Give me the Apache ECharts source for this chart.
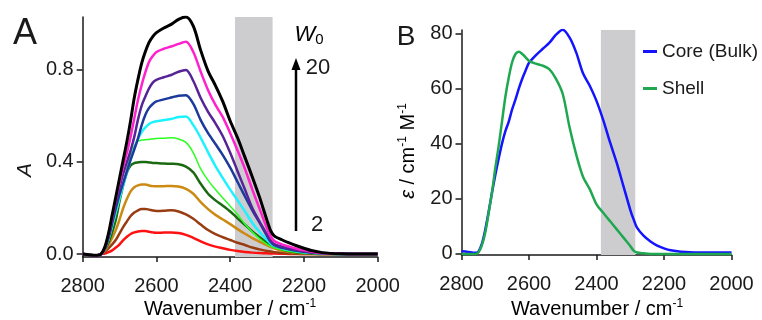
<!DOCTYPE html>
<html><head><meta charset="utf-8">
<script src="https://cdn.jsdelivr.net/npm/echarts@6/dist/echarts.min.js"></script>
<style>html,body{margin:0;padding:0;background:#fff}#c{width:762px;height:320px}</style>
</head><body><div id="c"></div>
<script>
// Wavenumber grid (cm-1)
const wavenumbers = [2800, 2780, 2760, 2750, 2740, 2730, 2720, 2710, 2700, 2690, 2680, 2670, 2660, 2650, 2640, 2630, 2620, 2610, 2600, 2580, 2560, 2540, 2520, 2500, 2480, 2460, 2440, 2420, 2400, 2380, 2360, 2340, 2320, 2300, 2290, 2280, 2260, 2240, 2220, 2200, 2180, 2150, 2100, 2050, 2000];

// Panel A: absorbance for W0 = 2 ... 20
const w0Labels = ['2', '4', '6', '8', '10', '12', '14', '16', '18', '20'];
const absW2  = [0, -0.004, -0.005, 0, 0.002, 0.008, 0.016, 0.028, 0.042, 0.06, 0.075, 0.087, 0.094, 0.098, 0.1, 0.1, 0.097, 0.094, 0.092, 0.093, 0.094, 0.091, 0.083, 0.07, 0.055, 0.042, 0.032, 0.025, 0.018, 0.013, 0.009, 0.006, 0.004, 0.003, 0.002, 0.002, 0.001, 0, 0, 0, 0, 0, 0, 0, 0];
const absW4  = [0, -0.004, -0.005, 0, 0.01, 0.025, 0.042, 0.062, 0.09, 0.118, 0.142, 0.165, 0.18, 0.19, 0.196, 0.196, 0.193, 0.189, 0.187, 0.188, 0.19, 0.185, 0.172, 0.153, 0.128, 0.104, 0.086, 0.073, 0.061, 0.049, 0.039, 0.028, 0.02, 0.013, 0.011, 0.008, 0.005, 0.003, 0.001, 0, 0, 0, 0, 0, 0];
const absW6  = [0, -0.004, -0.005, 0, 0.015, 0.04, 0.07, 0.105, 0.15, 0.2, 0.24, 0.272, 0.29, 0.298, 0.302, 0.302, 0.298, 0.295, 0.294, 0.295, 0.296, 0.293, 0.283, 0.262, 0.225, 0.195, 0.17, 0.15, 0.13, 0.108, 0.088, 0.069, 0.053, 0.037, 0.03, 0.024, 0.015, 0.009, 0.005, 0.003, 0.001, 0, 0, 0, 0];
const absW8  = [0, -0.004, -0.005, 0, 0.02, 0.05, 0.095, 0.15, 0.23, 0.30, 0.355, 0.385, 0.395, 0.398, 0.4, 0.4, 0.398, 0.396, 0.395, 0.393, 0.392, 0.39, 0.38, 0.355, 0.305, 0.262, 0.233, 0.21, 0.185, 0.155, 0.127, 0.098, 0.073, 0.05, 0.04, 0.032, 0.02, 0.012, 0.007, 0.004, 0.002, 0, 0, 0, 0];
const absW10 = [0, -0.004, -0.005, 0, 0.022, 0.06, 0.115, 0.175, 0.235, 0.30, 0.37, 0.43, 0.47, 0.49, 0.495, 0.497, 0.498, 0.5, 0.502, 0.503, 0.505, 0.5, 0.485, 0.44, 0.37, 0.32, 0.28, 0.243, 0.208, 0.172, 0.13, 0.095, 0.066, 0.042, 0.033, 0.026, 0.018, 0.012, 0.008, 0.005, 0.003, 0.001, 0, 0, 0];
const absW12 = [0, -0.004, -0.005, 0, 0.023, 0.065, 0.125, 0.185, 0.245, 0.30, 0.355, 0.41, 0.46, 0.50, 0.53, 0.55, 0.565, 0.573, 0.577, 0.582, 0.587, 0.595, 0.598, 0.56, 0.505, 0.442, 0.382, 0.33, 0.28, 0.233, 0.185, 0.135, 0.095, 0.06, 0.045, 0.035, 0.025, 0.018, 0.012, 0.008, 0.005, 0.002, 0, 0, 0];
const absW14 = [0, -0.004, -0.005, 0, 0.024, 0.07, 0.135, 0.2, 0.26, 0.31, 0.36, 0.41, 0.455, 0.503, 0.56, 0.605, 0.635, 0.652, 0.663, 0.672, 0.68, 0.688, 0.69, 0.652, 0.582, 0.525, 0.478, 0.43, 0.375, 0.313, 0.25, 0.19, 0.135, 0.078, 0.052, 0.038, 0.027, 0.02, 0.014, 0.01, 0.006, 0.003, 0, 0, 0];
const absW16 = [0, -0.004, -0.005, 0, 0.025, 0.075, 0.145, 0.22, 0.29, 0.35, 0.40, 0.45, 0.51, 0.585, 0.645, 0.685, 0.72, 0.745, 0.757, 0.768, 0.778, 0.792, 0.80, 0.752, 0.678, 0.618, 0.568, 0.512, 0.44, 0.36, 0.28, 0.20, 0.14, 0.085, 0.058, 0.043, 0.032, 0.024, 0.017, 0.012, 0.007, 0.003, 0.001, 0, 0];
const absW18 = [0, -0.004, -0.005, 0, 0.028, 0.085, 0.16, 0.24, 0.31, 0.38, 0.44, 0.51, 0.59, 0.67, 0.735, 0.79, 0.835, 0.86, 0.878, 0.892, 0.902, 0.913, 0.922, 0.878, 0.792, 0.712, 0.648, 0.595, 0.525, 0.45, 0.37, 0.28, 0.195, 0.11, 0.075, 0.056, 0.042, 0.032, 0.023, 0.016, 0.01, 0.004, 0.001, 0, 0];
const absW20 = [0, -0.004, -0.005, 0, 0.03, 0.09, 0.17, 0.25, 0.33, 0.41, 0.49, 0.58, 0.68, 0.76, 0.83, 0.88, 0.92, 0.945, 0.962, 0.982, 0.998, 1.02, 1.03, 0.99, 0.885, 0.795, 0.732, 0.662, 0.578, 0.505, 0.42, 0.335, 0.245, 0.145, 0.10, 0.078, 0.062, 0.048, 0.036, 0.025, 0.015, 0.006, 0.001, 0, 0];

// Panel B: molar absorptivity (cm-1 M-1)
const coreEps  = [1.0, 0.7, 0.4, 0.8, 3.5, 8.5, 15, 22, 28.5, 34.5, 40, 44.5, 48, 52.4, 56, 60, 63.5, 66.5, 69.3, 72, 74.3, 76.5, 79.5, 81.3, 78.5, 73, 65.5, 61, 55.5, 48.5, 40.5, 33, 24.5, 16, 12.5, 9.5, 6.5, 4.5, 3, 2, 1.3, 0.8, 0.5, 0.5, 0.5];
const shellEps = [0, 0, 0, 0.5, 3, 7.5, 14.5, 22, 31, 39, 48, 57, 64, 69.5, 72.5, 73.3, 72.5, 71.3, 70, 69, 68.3, 67, 63.5, 58, 46, 36, 28, 23.5, 18, 14.9, 11.9, 8.9, 5.9, 2.9, 1.2, 0.5, 0.2, 0, 0, 0, 0, 0, 0, 0, 0];

const yTicksA = [0, 0.4, 0.8];
const yTicksB = [0, 20, 40, 60, 80];
const bandRange = [2387, 2285];

const FONT = 'Liberation Sans, Arial, sans-serif';
const TXT = '#1a1a1a';
const seriesA = [absW2, absW4, absW6, absW8, absW10, absW12, absW14, absW16, absW18, absW20];
const colorsA = ['#ff1111', '#983c12', '#cc8a12', '#1b6a12', '#2cff22', '#1ef2ff', '#1c3a9c', '#562497', '#ff22cc', '#000000'];
const widthsA = [2.5, 2.5, 2.5, 2.5, 1.5, 2.5, 2.5, 2.5, 2.5, 3];

function pairs(vals) { return wavenumbers.map((w, i) => [w, vals[i]]); }

function xAxisCfg(gi) {
  return {
    type: 'value', gridIndex: gi, min: 2000, max: 2800, interval: 200, inverse: true,
    axisLine: { show: true, onZero: false, lineStyle: { color: TXT, width: 1.5 } },
    axisTick: { show: true, length: 5, lineStyle: { color: TXT, width: 1.5 } },
    axisLabel: { fontSize: 20, color: TXT, fontFamily: FONT, margin: 19, formatter: v => String(v) },
    splitLine: { show: false }
  };
}
function yAxisCfg(gi, min, max, ticks, fmt) {
  return {
    type: 'value', gridIndex: gi, min: min, max: max,
    axisLine: { show: true, onZero: false, lineStyle: { color: TXT, width: 1.5 } },
    axisTick: { show: true, length: 6, customValues: ticks, lineStyle: { color: TXT, width: 1.5 } },
    axisLabel: { fontSize: 20, color: TXT, fontFamily: FONT, margin: 9, customValues: ticks, formatter: fmt },
    splitLine: { show: false }
  };
}

const series = [];
series.push({ type: 'line', xAxisIndex: 0, yAxisIndex: 0, data: [], z: 1, silent: true,
  markArea: { silent: true, itemStyle: { color: '#cdcccf' }, data: [[{ xAxis: bandRange[0] }, { xAxis: bandRange[1] }]] } });
series.push({ type: 'line', xAxisIndex: 1, yAxisIndex: 1, data: [], z: 1, silent: true,
  markArea: { silent: true, itemStyle: { color: '#cdcccf' }, data: [[{ xAxis: bandRange[0] }, { xAxis: bandRange[1] }]] } });
seriesA.forEach((vals, i) => {
  series.push({ name: 'W0=' + w0Labels[i], type: 'line', xAxisIndex: 0, yAxisIndex: 0, data: pairs(vals),
    showSymbol: false, smooth: 0.3, z: 3, lineStyle: { color: colorsA[i], width: widthsA[i] }, itemStyle: { color: colorsA[i] } });
});
series.push({ name: 'Core (Bulk)', type: 'line', xAxisIndex: 1, yAxisIndex: 1, data: pairs(coreEps), showSymbol: false, smooth: 0.3, z: 3,
  lineStyle: { color: '#1414ff', width: 2.5 }, itemStyle: { color: '#1414ff' } });
series.push({ name: 'Shell', type: 'line', xAxisIndex: 1, yAxisIndex: 1, data: pairs(shellEps), showSymbol: false, smooth: 0.3, z: 3,
  lineStyle: { color: '#1fa84f', width: 2.5 }, itemStyle: { color: '#1fa84f' } });

function txt(text, x, y, size, extra) {
  return { type: 'text', x: x, y: y, silent: true,
    style: Object.assign({ text: text, fontSize: size, fontFamily: FONT, fill: TXT,
      align: 'center', verticalAlign: 'middle', textAlign: 'center', textVerticalAlign: 'middle' }, extra || {}) };
}
const supRich = {
  a: { fontSize: 20, fontFamily: FONT, color: TXT, lineHeight: 22 },
  i: { fontSize: 20, fontFamily: FONT, fontStyle: 'italic', color: TXT, lineHeight: 22 },
  s: { fontSize: 12, fontFamily: FONT, color: TXT, verticalAlign: 'top', lineHeight: 22, padding: [0, 0, 8, 0] }
};
const centerStyle = { align: 'center', verticalAlign: 'middle', textAlign: 'center', textVerticalAlign: 'middle' };

const graphic = [
  txt('A', 25, 34, 36),
  txt('B', 406, 37, 28),
  { type: 'text', x: 230, y: 309, silent: true, style: Object.assign({ text: '{a|Wavenumber / cm}{s|-1}', rich: supRich }, centerStyle) },
  { type: 'text', x: 597, y: 309, silent: true, style: Object.assign({ text: '{a|Wavenumber / cm}{s|-1}', rich: supRich }, centerStyle) },
  { type: 'text', x: 25, y: 170, rotation: Math.PI / 2, silent: true, style: Object.assign({ text: 'A', fontSize: 21, fontStyle: 'italic', fontFamily: FONT, fill: TXT }, centerStyle) },
  { type: 'text', x: 408, y: 151, rotation: Math.PI / 2, silent: true, style: Object.assign({ text: '{i|ε}{a| / cm}{s|-1}{a| M}{s|-1}', rich: supRich }, centerStyle) },
  { type: 'text', x: 309, y: 35, silent: true, style: Object.assign({ text: '{w|W}{o|0}',
      rich: { w: { fontSize: 22, fontStyle: 'italic', fontFamily: FONT, color: TXT, lineHeight: 24 }, o: { fontSize: 15, fontFamily: FONT, color: TXT, verticalAlign: 'bottom', lineHeight: 24, padding: [6, 0, 0, 0] } } }, centerStyle) },
  txt('20', 318, 68, 22),
  txt('2', 317, 225, 22),
  { type: 'line', silent: true, shape: { x1: 296, y1: 231, x2: 296, y2: 68 }, style: { stroke: '#000', lineWidth: 2.5 } },
  { type: 'polygon', silent: true, shape: { points: [[296, 58], [291.5, 70], [300.5, 70]] }, style: { fill: '#000' } }
];

const option = {
  animation: false,
  backgroundColor: '#fff',
  grid: [
    { left: 82.7, top: 17, width: 295, height: 240 },
    { left: 461.5, top: 30, width: 270, height: 225 }
  ],
  xAxis: [xAxisCfg(0), xAxisCfg(1)],
  yAxis: [
    yAxisCfg(0, -0.013, 1.03, yTicksA, v => v.toFixed(1)),
    yAxisCfg(1, -0.4, 81.2, yTicksB, v => String(v))
  ],
  legend: {
    data: ['Core (Bulk)', 'Shell'], orient: 'vertical', left: 643, top: 42, padding: 0,
    itemWidth: 14, itemHeight: 3, itemGap: 18, icon: 'rect',
    textStyle: { fontSize: 19, color: TXT, fontFamily: FONT }
  },
  series: series,
  graphic: graphic
};
const chart = echarts.init(document.getElementById('c'));
chart.setOption(option);
</script>
</body></html>
